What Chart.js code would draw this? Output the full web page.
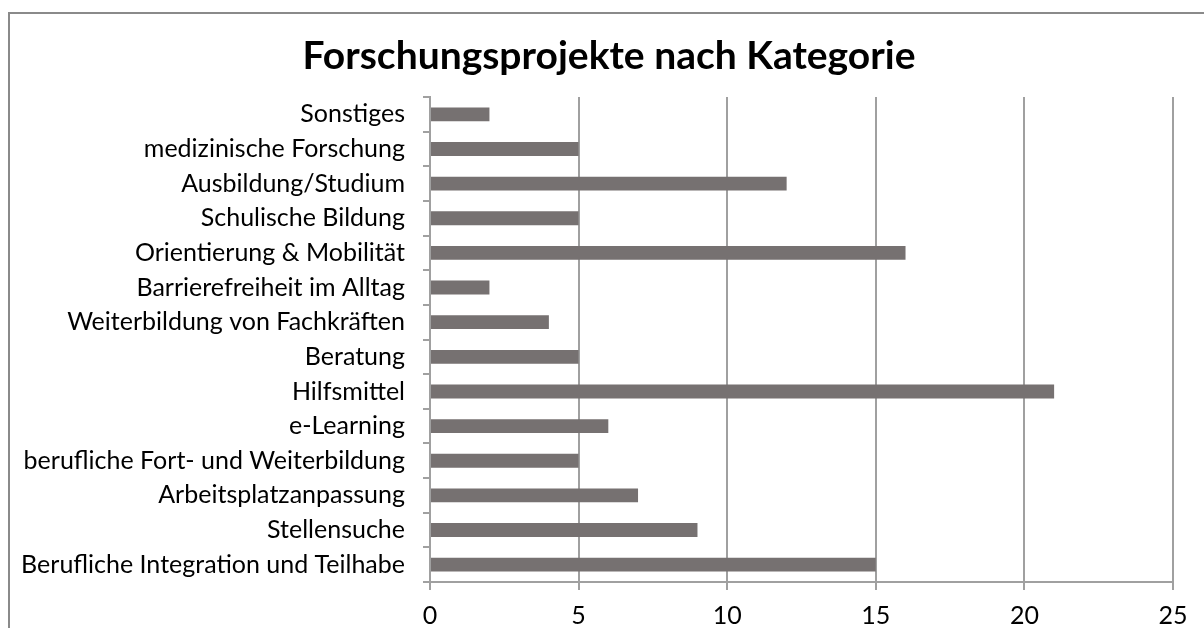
<!DOCTYPE html>
<html><head><meta charset="utf-8">
<script src="https://cdn.jsdelivr.net/npm/chart.js@4/dist/chart.umd.min.js"></script>
<style>
html,body{margin:0;padding:0;background:#fff;overflow:hidden;width:1204px;height:628px;}
#frame{position:absolute;left:8px;top:12px;width:1400px;height:800px;border:2px solid #8a8a8a;box-sizing:border-box;}
#wrap{position:absolute;left:0;top:0;width:1204px;height:628px;}
</style></head>
<body>
<div id="frame"></div>
<div id="wrap"><canvas id="c" width="1204" height="628"></canvas></div>
<script>
const titleText = "Forschungsprojekte nach Kategorie";
const categories = [
  "Sonstiges",
  "medizinische Forschung",
  "Ausbildung/Studium",
  "Schulische Bildung",
  "Orientierung & Mobilität",
  "Barrierefreiheit im Alltag",
  "Weiterbildung von Fachkräften",
  "Beratung",
  "Hilfsmittel",
  "e-Learning",
  "berufliche Fort- und Weiterbildung",
  "Arbeitsplatzanpassung",
  "Stellensuche",
  "Berufliche Integration und Teilhabe"
];
const projectCounts = [2, 5, 12, 5, 16, 2, 4, 5, 21, 6, 5, 7, 9, 15];
const xMin = 0, xMax = 25, xStep = 5;

const FONT = "Lato, 'Open Sans', sans-serif";
const titlePlugin = {
  id: 'customTitle',
  afterDraw(chart) {
    const ctx = chart.ctx;
    ctx.save();
    ctx.font = "bold 39px " + FONT;
    ctx.fillStyle = "#000";
    ctx.textAlign = "center";
    ctx.textBaseline = "middle";
    ctx.fillText(titleText, 609, 56);
    ctx.restore();
  }
};

new Chart(document.getElementById('c'), {
  type: 'bar',
  data: {
    labels: categories,
    datasets: [{
      data: projectCounts,
      backgroundColor: '#767171',
      borderWidth: 0,
      barPercentage: 0.8,
      categoryPercentage: 0.5
    }]
  },
  options: {
    indexAxis: 'y',
    responsive: false,
    animation: false,
    devicePixelRatio: 1,
    layout: { padding: { top: 97, right: 31, left: 0, bottom: 0 } },
    plugins: { legend: { display: false }, title: { display: false }, tooltip: { enabled: false } },
    scales: {
      x: {
        min: xMin, max: xMax,
        ticks: { stepSize: xStep, color: '#000', font: { family: FONT, size: 25 }, padding: 11 },
        grid: { color: '#a0a0a0', lineWidth: 2, tickLength: 8, drawTicks: true },
        border: { display: true, color: '#a0a0a0', width: 2 },
        afterFit(s) { s.height = 46; }
      },
      y: {
        ticks: { color: '#000', font: { family: FONT, size: 25 }, padding: 18, autoSkip: false },
        grid: { offset: true, drawOnChartArea: false, color: '#a0a0a0', lineWidth: 2, tickLength: 7 },
        border: { display: true, color: '#a0a0a0', width: 2 },
        afterFit(s) { s.width = 430; }
      }
    }
  },
  plugins: [titlePlugin]
});
</script>
</body></html>
